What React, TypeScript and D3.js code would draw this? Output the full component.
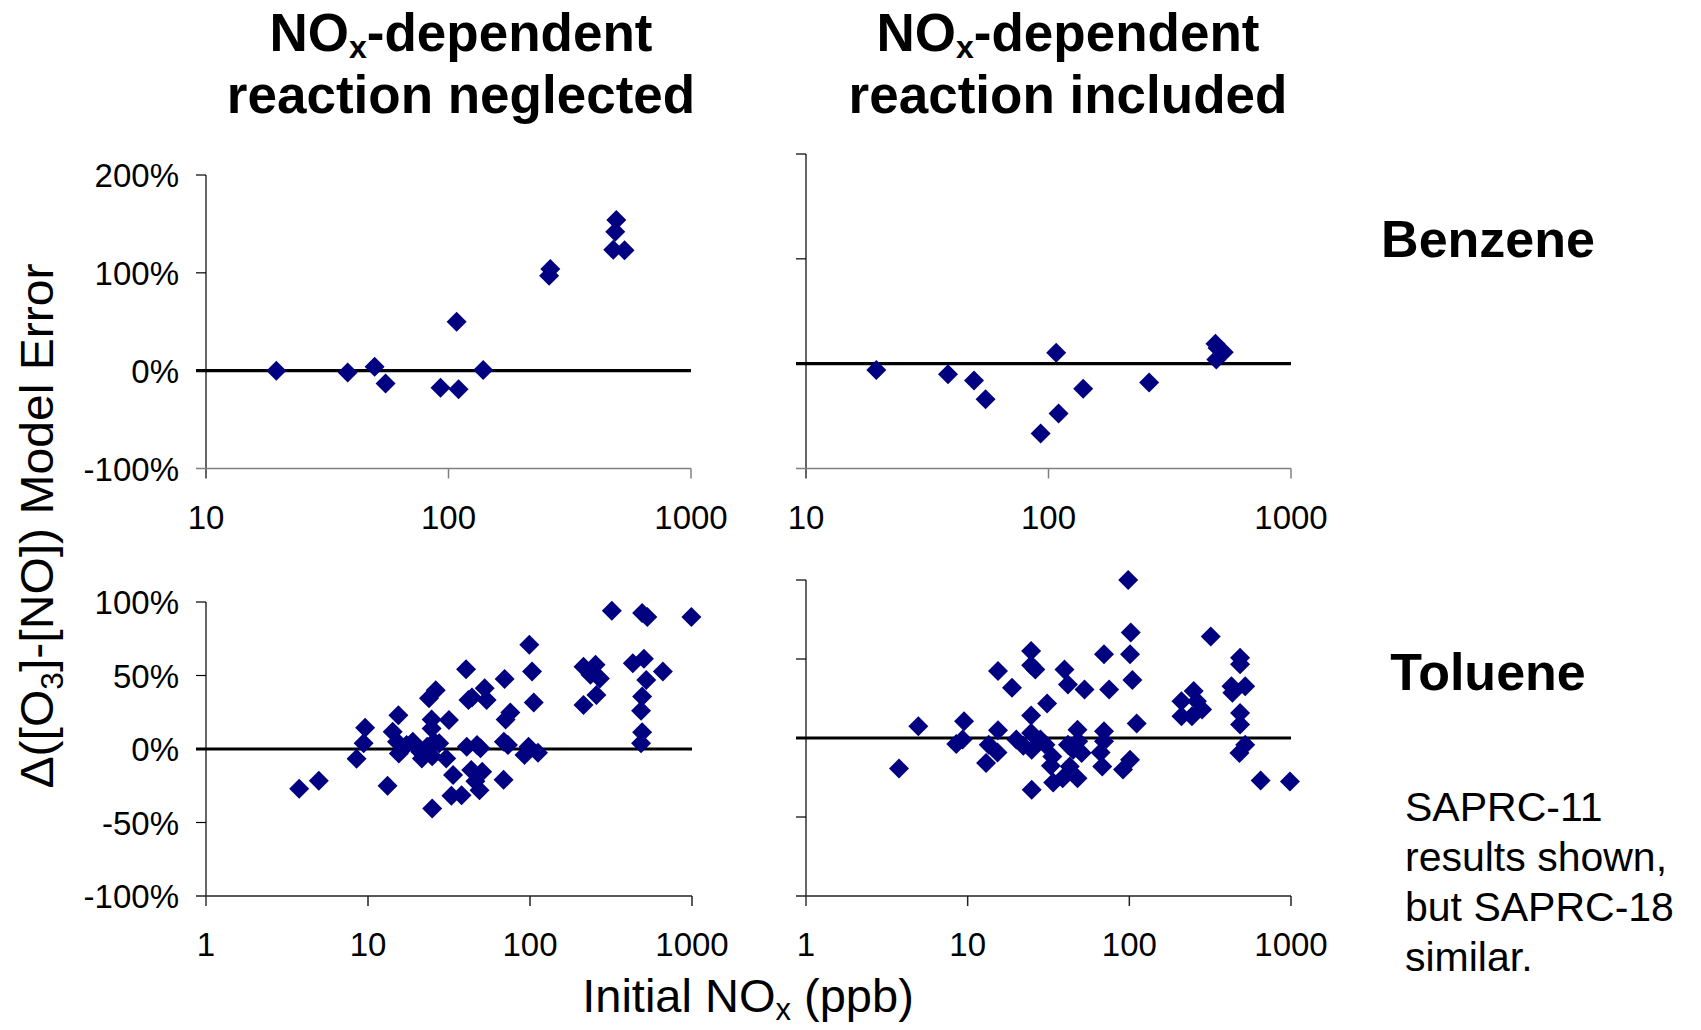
import { useEffect, useRef } from 'react';
import * as d3 from 'd3';

// [initial NOx (ppb), model error (%)]
const benzeneNeglected: [number, number][] = [
  [19.5, 0], [38.4, -2], [49.6, 4], [55, -13], [92.7, -17.5], [110, -19], [108, 50], [139, 0.7],
  [260, 97], [263, 104], [492, 154], [487, 142], [478, 123.5], [532, 123],
];

const benzeneIncluded: [number, number][] = [
  [19.5, -6], [38.5, -10], [49.3, -16], [55, -34], [92.8, -66.5], [110, -47.5], [107.6, 10.5],
  [139, -24], [260, -18], [488, 19], [492, 4], [528, 11], [498, 15],
];

const tolueneNeglected: [number, number][] = [
  [3.76, -27], [4.97, -21.6], [13.2, -25], [8.5, -6.6], [9.4, 3.9], [9.6, 14.5], [15.4, 23],
  [14.2, 11.8], [15.1, 5], [15.5, -3], [17.3, 2.7], [18.9, 5], [21, -1.8], [21.5, -6.4],
  [23.8, 34.5], [26.2, 40], [24.7, 20], [24.7, 14], [25.6, 5], [23.2, 1.6], [24.9, -5],
  [27.5, 3.9], [31.6, 19.8], [30.4, -6.4], [33.5, -17.7], [32.7, -31.8], [37.8, -31.4],
  [24.9, -40.5], [40.3, 54.3], [41.7, 33.4], [43.8, 35], [40.7, 1.6], [47.1, 2.7], [49.5, 0.5],
  [43.4, -14.3], [50.7, -15.5], [46, -22], [48.8, -28], [52.5, 41.4], [54, 33.4], [69.7, 47.7],
  [70.7, 20], [75.6, 24.8], [69, 5], [73.1, 2.7], [68.7, -21], [99, 71], [103, 52.7],
  [105.5, 31.6], [98, 1.6], [92.5, -4], [112, -2.5], [214, 56], [254, 57.3], [236, 50.5],
  [270, 48], [214, 30], [257, 36.8], [320, 94], [492, 92.5], [530, 89.8], [991, 89.8],
  [431, 58.4], [505, 61.4], [661, 52.7], [522, 47], [492, 35.7], [485, 26], [492, 11.4], [485, 3.9],
];

const tolueneIncluded: [number, number][] = [
  [3.76, -19.3], [4.95, 7.4], [8.5, -3.8], [9.5, 10.6], [9.3, -1], [15.4, 42.4], [15.4, 4.9],
  [13.5, -4.2], [15.3, -9.1], [13, -15.9], [18.8, 31.8], [20, -1], [22.1, -4.9], [24.7, 55],
  [24.7, 46], [26.2, 43.4], [24.7, 14.2], [24.7, 3.2], [24.9, -7.4], [28.2, -1], [30.3, -4.2],
  [31, 21.8], [33.4, -11.7], [32.7, -17.6], [33.8, -28.2], [24.9, -32.8], [38.7, -25.4],
  [39.7, 43.4], [41.7, 33.9], [41.7, -4.2], [44.9, -7.4], [47.8, 5.3], [48.3, -2.1], [50.7, -9.5],
  [47.8, -25.4], [42.8, -18], [52.8, 30.7], [69.7, 53], [75, 30.7], [69.7, 4.2], [69.7, -2.1],
  [66.4, -9.1], [68, -18], [98.4, 100], [102, 66.7], [101, 53], [104.4, 36.7], [111, 9.1],
  [101, -13.8], [91.4, -20], [319, 64.2], [210, 23.3], [250, 29.7], [210, 13.8], [244, 13.8],
  [282, 18], [262, 23.3], [484, 50.8], [484, 46.6], [428, 32.8], [521, 32.8], [434, 28.6],
  [484, 15.9], [484, 8.5], [521, -4.2], [480, -9.5], [649, -26.9], [985, -27.5],
];

const benzeneXTicks = [10, 100, 1000];
const tolueneXTicks = [1, 10, 100, 1000];
const benzeneYTicks = [-100, 0, 100, 200];
const tolueneYTicks = [-100, -50, 0, 50, 100];

const FONT = '"Liberation Sans", Arial, Helvetica, sans-serif';
const NAVY = '#000080';
const TICK = 10;

const panels = [
  { data: benzeneNeglected, xTicks: benzeneXTicks, yTicks: benzeneYTicks, left: 206, right: 691, top: 175, bottom: 468.5, yLabels: true, xAxisColor: '#808080' },
  { data: benzeneIncluded, xTicks: benzeneXTicks, yTicks: benzeneYTicks, left: 806, right: 1291, top: 154, bottom: 468.5, yLabels: false, xAxisColor: '#808080' },
  { data: tolueneNeglected, xTicks: tolueneXTicks, yTicks: tolueneYTicks, left: 206, right: 692, top: 602, bottom: 896, yLabels: true, xAxisColor: '#222' },
  { data: tolueneIncluded, xTicks: tolueneXTicks, yTicks: tolueneYTicks, left: 806, right: 1291, top: 580, bottom: 896, yLabels: false, xAxisColor: '#222' },
];

const App = () => {
  const svgRef = useRef<SVGSVGElement>(null);

  useEffect(() => {
    if (!svgRef.current) return;
    const svg = d3.select(svgRef.current);
    svg.selectAll('*').remove();
    svg.append('rect').attr('width', 1701).attr('height', 1030).attr('fill', '#fff');

    const diamond = d3.symbol().type(d3.symbolDiamond2).size(Math.pow(10 / 0.62625, 2));

    panels.forEach(p => {
      const xs = d3.scaleLog().domain([p.xTicks[0], p.xTicks[p.xTicks.length - 1]]).range([p.left, p.right]);
      const ys = d3.scaleLinear().domain([p.yTicks[0], p.yTicks[p.yTicks.length - 1]]).range([p.bottom, p.top]);
      const g = svg.append('g');
      const yMin = ys(p.yTicks[0]);

      // axe Y
      g.append('line')
        .attr('x1', p.left).attr('x2', p.left)
        .attr('y1', ys(p.yTicks[p.yTicks.length - 1])).attr('y2', yMin + TICK)
        .attr('stroke', '#000').attr('stroke-width', 1.2);
      g.selectAll('.ytick')
        .data(p.yTicks.slice(1))
        .enter()
        .append('line')
        .attr('x1', p.left - TICK).attr('x2', p.left)
        .attr('y1', d => ys(d)).attr('y2', d => ys(d))
        .attr('stroke', '#000').attr('stroke-width', 1.2);

      // axe X
      g.append('line')
        .attr('x1', p.left - TICK).attr('x2', p.right)
        .attr('y1', yMin).attr('y2', yMin)
        .attr('stroke', p.xAxisColor).attr('stroke-width', 1.5);
      g.selectAll('.xtick')
        .data(p.xTicks.slice(1))
        .enter()
        .append('line')
        .attr('x1', d => xs(d)).attr('x2', d => xs(d))
        .attr('y1', yMin).attr('y2', yMin + TICK)
        .attr('stroke', p.xAxisColor).attr('stroke-width', 1.5);

      g.selectAll('.xlabel')
        .data(p.xTicks)
        .enter()
        .append('text')
        .attr('x', d => xs(d))
        .attr('y', yMin + 60)
        .attr('text-anchor', 'middle')
        .style('font-family', FONT)
        .style('font-size', '33px')
        .text(d => String(d));

      if (p.yLabels) {
        g.selectAll('.ylabel')
          .data(p.yTicks)
          .enter()
          .append('text')
          .attr('x', p.left - 27)
          .attr('y', d => ys(d) + 12)
          .attr('text-anchor', 'end')
          .style('font-family', FONT)
          .style('font-size', '33px')
          .text(d => `${d}%`);
      }

      // ligne zéro
      g.append('line')
        .attr('x1', p.left - TICK).attr('x2', p.right)
        .attr('y1', ys(0)).attr('y2', ys(0))
        .attr('stroke', '#000').attr('stroke-width', 3.2);

      g.selectAll('.pt')
        .data(p.data)
        .enter()
        .append('path')
        .attr('d', diamond)
        .attr('transform', d => `translate(${xs(d[0])},${ys(d[1])})`)
        .attr('fill', NAVY);
    });

    // titres
    const title = (cx: number, second: string) => {
      const t1 = svg.append('text')
        .attr('x', cx).attr('y', 51)
        .attr('text-anchor', 'middle')
        .style('font-family', FONT).style('font-weight', 'bold').style('font-size', '53px');
      t1.append('tspan').text('NO');
      t1.append('tspan').attr('dy', 7).style('font-size', '32px').text('x');
      t1.append('tspan').attr('dy', -7).text('-dependent');
      svg.append('text')
        .attr('x', cx).attr('y', 113)
        .attr('text-anchor', 'middle')
        .style('font-family', FONT).style('font-weight', 'bold').style('font-size', '53px')
        .text(second);
    };
    title(461, 'reaction neglected');
    title(1068, 'reaction included');

    svg.append('text')
      .attr('x', 1488).attr('y', 257)
      .attr('text-anchor', 'middle')
      .style('font-family', FONT).style('font-weight', 'bold').style('font-size', '52px')
      .text('Benzene');
    svg.append('text')
      .attr('x', 1488).attr('y', 690)
      .attr('text-anchor', 'middle')
      .style('font-family', FONT).style('font-weight', 'bold').style('font-size', '52px')
      .text('Toluene');

    ['SAPRC-11', 'results shown,', 'but SAPRC-18', 'similar.'].forEach((line, i) => {
      svg.append('text')
        .attr('x', 1405).attr('y', 821 + i * 50)
        .style('font-family', FONT).style('font-size', '41px')
        .text(line);
    });

    // titre axe X
    const xt = svg.append('text')
      .attr('x', 748).attr('y', 1012)
      .attr('text-anchor', 'middle')
      .style('font-family', FONT).style('font-size', '47px');
    xt.append('tspan').text('Initial NO');
    xt.append('tspan').attr('dy', 8).style('font-size', '31px').text('x');
    xt.append('tspan').attr('dy', -8).text(' (ppb)');

    // titre axe Y
    const yt = svg.append('text')
      .attr('transform', 'translate(53,526) rotate(-90)')
      .attr('text-anchor', 'middle')
      .attr('textLength', 525)
      .attr('lengthAdjust', 'spacingAndGlyphs')
      .style('font-family', FONT).style('font-size', '47px');
    yt.append('tspan').text('Δ([O');
    yt.append('tspan').attr('dy', 10).style('font-size', '31px').text('3');
    yt.append('tspan').attr('dy', -10).text(']-[NO]) Model Error');
  }, []);

  return (
    <svg
      ref={svgRef}
      width={1701}
      height={1030}
      style={{ position: 'absolute', left: 0, top: 0 }}
    />
  );
};

export default App;
